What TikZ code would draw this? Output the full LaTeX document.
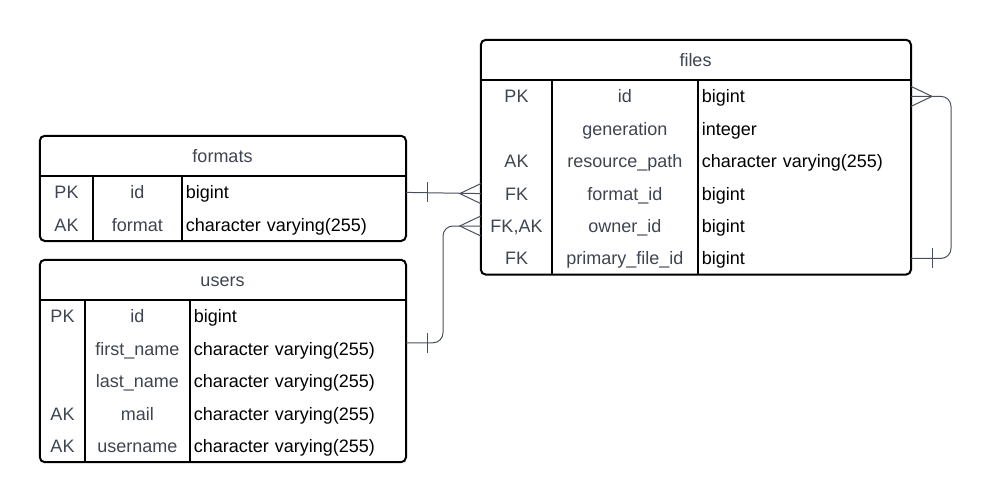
\documentclass[tikz,border=0pt]{standalone}
\usepackage{fontspec}
\setmainfont{Liberation Sans}
\usetikzlibrary{positioning,fit}
\definecolor{txtgrey}{RGB}{62,68,80}
\definecolor{lnkgrey}{RGB}{72,80,94}
\tikzset{
  tbl/.style = {rectangle, draw, line width=2pt, rounded corners=5pt, inner sep=0pt},
  ttl/.style = {rectangle, inner sep=0pt, minimum height=40pt, text=txtgrey,
    text height=15pt, text depth=2pt, font=\fontsize{18pt}{21pt}\selectfont},
  keycell/.style = {rectangle, inner sep=0pt, minimum height=32pt, text=txtgrey,
    text height=15pt, text depth=2pt, font=\fontsize{18pt}{21pt}\selectfont},
  namecell/.style = {keycell},
  typecell/.style = {rectangle, inner xsep=4pt, inner ysep=0pt, minimum height=32pt,
    align=left, text=black, text height=15pt, text depth=2pt,
    font=\fontsize{18pt}{21pt}\selectfont},
  sep/.style = {line width=2pt},
  link/.style = {draw=lnkgrey, line width=1pt}
}
\begin{document}
\begin{tikzpicture}[x=1pt, y=-1pt, node distance=0pt]
\useasboundingbox (0,0) rectangle (991,500);

% files
\node[ttl, minimum width=429pt] (ftitle) at (695.5,60) {files};
\node[keycell, minimum width=71pt, anchor=north west] (fk1) at (ftitle.south west) {PK};
\node[keycell, minimum width=71pt, below=of fk1] (fk2) {};
\node[keycell, minimum width=71pt, below=of fk2] (fk3) {AK};
\node[keycell, minimum width=71pt, below=of fk3] (fk4) {FK};
\node[keycell, minimum width=71pt, below=of fk4] (fk5) {FK,AK};
\node[keycell, minimum width=71pt, below=of fk5] (fk6) {FK};
\node[namecell, minimum width=145pt, right=of fk1] (fn1) {id};
\node[namecell, minimum width=145pt, right=of fk2] (fn2) {generation};
\node[namecell, minimum width=145pt, right=of fk3] (fn3) {resource\_path};
\node[namecell, minimum width=145pt, right=of fk4] (fn4) {format\_id};
\node[namecell, minimum width=145pt, right=of fk5] (fn5) {owner\_id};
\node[namecell, minimum width=145pt, right=of fk6] (fn6) {primary\_file\_id};
\node[typecell, text width=205pt, right=of fn1] (ft1) {bigint};
\node[typecell, text width=205pt, right=of fn2] (ft2) {integer};
\node[typecell, text width=205pt, right=of fn3] (ft3) {character varying(255)};
\node[typecell, text width=205pt, right=of fn4] (ft4) {bigint};
\node[typecell, text width=205pt, right=of fn5] (ft5) {bigint};
\node[typecell, text width=205pt, right=of fn6] (ft6) {bigint};
\node[tbl, fit=(ftitle)(fk6)(ft6)] (files) {};
\draw[sep] (ftitle.south west) -- (ftitle.south east);
\draw[sep] (fk1.north east) -- (fk6.south east);
\draw[sep] (fn1.north east) -- (fn6.south east);

% formats
\node[ttl, minimum width=365pt] (mtitle) at (222.5,156) {formats};
\node[keycell, minimum width=53pt, anchor=north west] (mk1) at (mtitle.south west) {PK};
\node[keycell, minimum width=53pt, below=of mk1] (mk2) {AK};
\node[namecell, minimum width=88pt, right=of mk1] (mn1) {id};
\node[namecell, minimum width=88pt, right=of mk2] (mn2) {format};
\node[typecell, text width=216pt, right=of mn1] (mt1) {bigint};
\node[typecell, text width=216pt, right=of mn2] (mt2) {character varying(255)};
\node[tbl, fit=(mtitle)(mk2)(mt2)] (formats) {};
\draw[sep] (mtitle.south west) -- (mtitle.south east);
\draw[sep] (mk1.north east) -- (mk2.south east);
\draw[sep] (mn1.north east) -- (mn2.south east);

% users
\node[ttl, minimum width=365pt] (utitle) at (222.5,280) {users};
\node[keycell, minimum width=45pt, anchor=north west] (uk1) at (utitle.south west) {PK};
\node[keycell, minimum width=45pt, below=of uk1] (uk2) {};
\node[keycell, minimum width=45pt, below=of uk2] (uk3) {};
\node[keycell, minimum width=45pt, below=of uk3] (uk4) {AK};
\node[keycell, minimum width=45pt, below=of uk4] (uk5) {AK};
\node[namecell, minimum width=104pt, right=of uk1] (un1) {id};
\node[namecell, minimum width=104pt, right=of uk2] (un2) {first\_name};
\node[namecell, minimum width=104pt, right=of uk3] (un3) {last\_name};
\node[namecell, minimum width=104pt, right=of uk4] (un4) {mail};
\node[namecell, minimum width=104pt, right=of uk5] (un5) {username};
\node[typecell, text width=208pt, right=of un1] (ut1) {bigint};
\node[typecell, text width=208pt, right=of un2] (ut2) {character varying(255)};
\node[typecell, text width=208pt, right=of un3] (ut3) {character varying(255)};
\node[typecell, text width=208pt, right=of un4] (ut4) {character varying(255)};
\node[typecell, text width=208pt, right=of un5] (ut5) {character varying(255)};
\node[tbl, fit=(utitle)(uk5)(ut5)] (users) {};
\draw[sep] (utitle.south west) -- (utitle.south east);
\draw[sep] (uk1.north east) -- (uk5.south east);
\draw[sep] (un1.north east) -- (un5.south east);

% links
\draw[link] (mt1.east) -- (fk4.west);
\draw[link] ([xshift=21pt,yshift=10pt]mt1.east) -- ++(0,-20pt);
\draw[link] ([yshift=10pt]fk4.west) -- ([xshift=-21pt]fk4.west) -- ([yshift=-10pt]fk4.west);

\draw[link, rounded corners=10pt] ([yshift=6pt]ut2.east) -- ++(37pt,0) |- (fk5.west);
\draw[link] ([xshift=21pt,yshift=16pt]ut2.east) -- ++(0,-20pt);
\draw[link] ([yshift=10pt]fk5.west) -- ([xshift=-21pt]fk5.west) -- ([yshift=-10pt]fk5.west);

\draw[link, rounded corners=10pt] (ft1.east) -- ++(40pt,0) |- (ft6.east);
\draw[link] ([yshift=10pt]ft1.east) -- ([xshift=21pt]ft1.east) -- ([yshift=-10pt]ft1.east);
\draw[link] ([xshift=21pt,yshift=10pt]ft6.east) -- ++(0,-20pt);

\end{tikzpicture}
\end{document}
